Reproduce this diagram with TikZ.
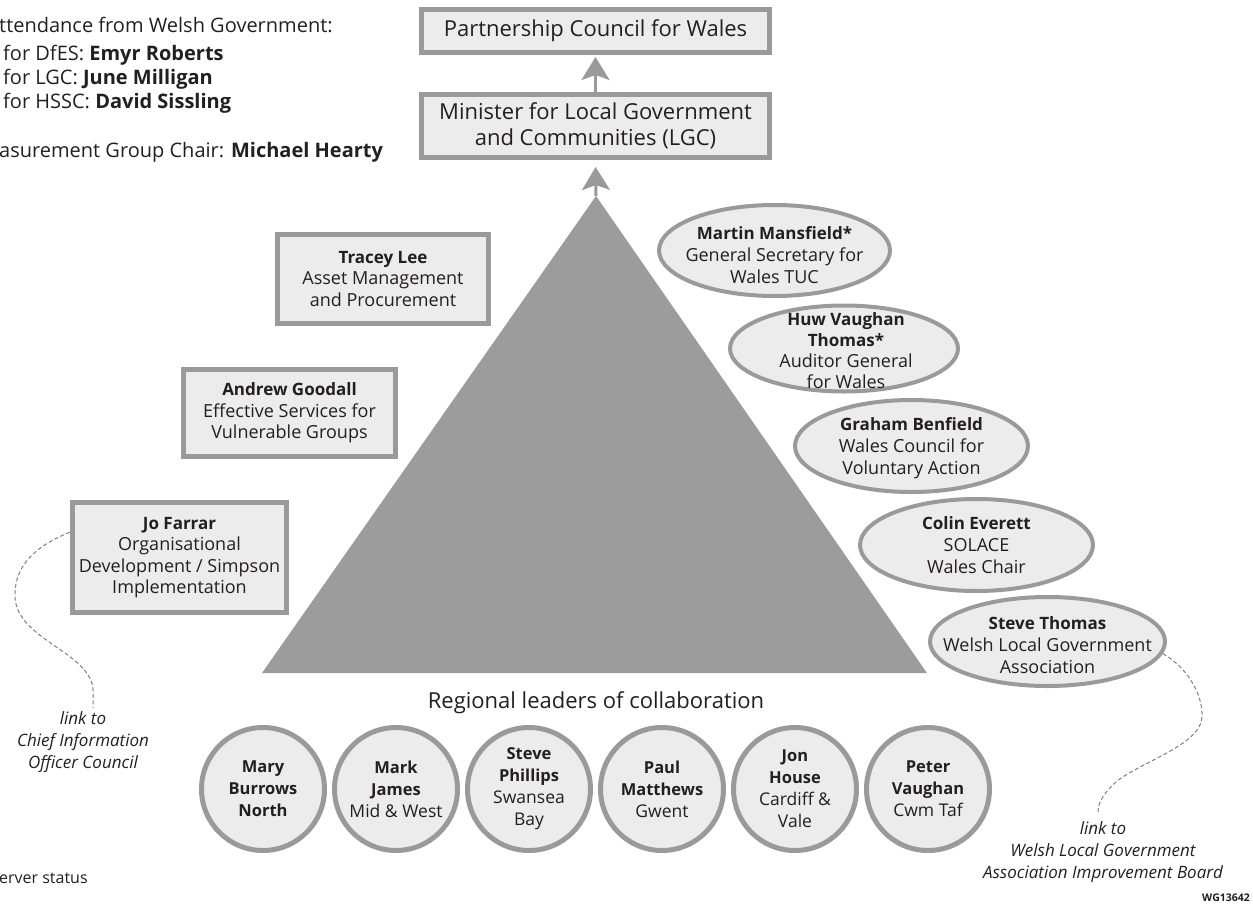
\documentclass[tikz,border=0pt]{standalone}
\usepackage{fontspec}
\setmainfont{Open Sans}
\usetikzlibrary{shapes.geometric,arrows.meta}
\definecolor{edgegray}{HTML}{9A9A9A}
\definecolor{pale}{HTML}{ECECEC}
\definecolor{trigray}{HTML}{9C9C9C}
\definecolor{ink}{HTML}{231F20}
\definecolor{dashgray}{HTML}{808080}
\newcommand{\bnm}[1]{{\fontsize{17}{21}\selectfont\bfseries #1}}
\newcommand{\cnm}[1]{{\fontsize{16.5}{21}\selectfont\bfseries #1}}
\begin{document}
\begin{tikzpicture}[x=1pt,y=-1pt,
  boxnode/.style={draw=edgegray, fill=pale, line width=5pt, inner sep=0pt, align=center, text=ink, font=\fontsize{18}{21.5}\selectfont},
  titlebox/.style={boxnode, font=\fontsize{22}{26}\selectfont},
  ellnode/.style={ellipse, draw=edgegray, fill=pale, line width=4pt, inner sep=0pt},
  circnode/.style={circle, draw=edgegray, fill=pale, line width=5pt, inner sep=0pt, minimum size=123pt},
  etxt/.style={inner sep=0pt, align=center, text=ink, font=\fontsize{18}{22}\selectfont},
  ctxt/.style={inner sep=0pt, align=center, text=ink, font=\fontsize{17.5}{22}\selectfont},
  ltxt/.style={inner sep=0pt, align=center, text=ink, font=\fontsize{17}{22}\selectfont\itshape},
  wtxt/.style={inner sep=0pt, anchor=west, text=ink, font=\fontsize{20}{23}\selectfont},
  uparrow/.style={draw=edgegray, line width=3pt, -{Stealth[length=23pt,width=28pt,inset=5pt]}},
  linkline/.style={draw=dashgray, line width=1pt, dash pattern=on 4pt off 2.5pt},
]
\useasboundingbox (0,0) rectangle (1253,905);

% top-left text
\node[wtxt] (att) at (-1,25) {ttendance from Welsh Government:};
\node[wtxt] (dfes) at (3,55) {for DfES: \textbf{Emyr Roberts}};
\node[wtxt] (lgc) at (3,79) {for LGC: \textbf{June Milligan}};
\node[wtxt] (hssc) at (3,103) {for HSSC: \textbf{David Sissling}};
\node[wtxt] (mgc) at (-1,152) {asurement Group Chair: \textbf{Michael Hearty}};
\node[wtxt, font=\fontsize{16}{19}\selectfont] (obs) at (-1,878) {erver status};
\node[inner sep=0pt, anchor=east, text=ink, font=\fontsize{10.5}{12}\selectfont\bfseries] (wg) at (1250,898) {WG13642};

% triangle
\coordinate (apex) at (596,196);
\fill[trigray] (apex) -- (262,673) -- (927,673) -- cycle;

% top boxes
\node[titlebox, minimum width=348pt, minimum height=43pt] (pcw) at (595.5,31) {Partnership Council for Wales};
\node[titlebox, minimum width=348pt, minimum height=63pt] (minlgc) at (595.5,126) {Minister for Local Government\\and Communities (LGC)};
\draw[uparrow, shorten >=2pt] (minlgc.north) -- (pcw.south);
\draw[uparrow, shorten >=7pt] (apex) -- (minlgc.south);

% left boxes
\node[boxnode, minimum width=211pt, minimum height=89pt] (tracey) at (383,279) {\bnm{Tracey Lee}\\Asset Management\\and Procurement};
\node[boxnode, minimum width=212pt, minimum height=87pt] (andrew) at (289.5,413) {\bnm{Andrew Goodall}\\Effective Services for\\Vulnerable Groups};
\node[boxnode, minimum width=214pt, minimum height=110pt] (jo) at (179.5,557.5) {\bnm{Jo Farrar}\\Organisational\\Development / Simpson\\Implementation};

% right ellipses
\node[ellnode, minimum width=231pt, minimum height=91pt] (martin) at (774.5,250.5) {};
\node[etxt] (martint) at (774.5,255) {\bnm{Martin Mansfield*}\\General Secretary for\\Wales TUC};
\node[ellnode, minimum width=228pt, minimum height=86pt] (huw) at (844,348.5) {};
\node[etxt, font=\fontsize{18}{21}\selectfont] (huwt) at (846,351) {\bnm{Huw Vaughan}\\\bnm{Thomas*}\\Auditor General\\for Wales};
\node[ellnode, minimum width=233pt, minimum height=92pt] (graham) at (911.5,446) {};
\node[etxt] (grahamt) at (911.5,448) {\bnm{Graham Benfield}\\Wales Council for\\Voluntary Action};
\node[ellnode, minimum width=233pt, minimum height=92pt] (colin) at (976.5,545) {};
\node[etxt] (colint) at (976.5,545) {\bnm{Colin Everett}\\SOLACE\\Wales Chair};
\node[ellnode, minimum width=235pt, minimum height=89pt] (steve) at (1047.5,641.5) {};
\node[etxt] (stevet) at (1047.5,645) {\bnm{Steve Thomas}\\Welsh Local Government\\Association};

% regional leaders
\node[inner sep=0pt, text=ink, font=\fontsize{22}{26}\selectfont] (rlc) at (596,703) {Regional leaders of collaboration};
\node[circnode] (mary) at (263,789) {};
\node[ctxt] (maryt) at (mary) {\cnm{Mary}\\\cnm{Burrows}\\\cnm{North}};
\node[circnode] (mark) at (396,789) {};
\node[ctxt] (markt) at (mark) {\cnm{Mark}\\\cnm{James}\\Mid \& West};
\node[circnode] (stevep) at (529,789) {};
\node[ctxt] (stevept) at (stevep) {\cnm{Steve}\\\cnm{Phillips}\\Swansea\\Bay};
\node[circnode] (paul) at (662,789) {};
\node[ctxt] (pault) at (paul) {\cnm{Paul}\\\cnm{Matthews}\\Gwent};
\node[circnode] (jon) at (795,789) {};
\node[ctxt] (jont) at (jon) {\cnm{Jon}\\\cnm{House}\\Cardiff \&\\Vale};
\node[circnode] (peter) at (928,789) {};
\node[ctxt] (petert) at (peter) {\cnm{Peter}\\\cnm{Vaughan}\\Cwm Taf};

% links
\coordinate (cioc) at (93,708);
\draw[linkline] (jo.167) .. controls (30,548) and (14,570) .. (15,597) .. controls (17,640) and (91,652) .. (93,690) -- (cioc);
\node[ltxt, anchor=north] (cioct) at (83,711) {link to\\Chief Information\\Officer Council};
\coordinate (wlgib) at (1098,812);
\draw[linkline] (steve.-6) .. controls (1188,668) and (1203,695) .. (1202,717) .. controls (1201,745) and (1140,762) .. (1116,782) .. controls (1104,793) and (1098,802) .. (wlgib);
\node[ltxt, anchor=north] (wlgibt) at (1103,821) {link to\\Welsh Local Government\\Association Improvement Board};
\end{tikzpicture}
\end{document}
